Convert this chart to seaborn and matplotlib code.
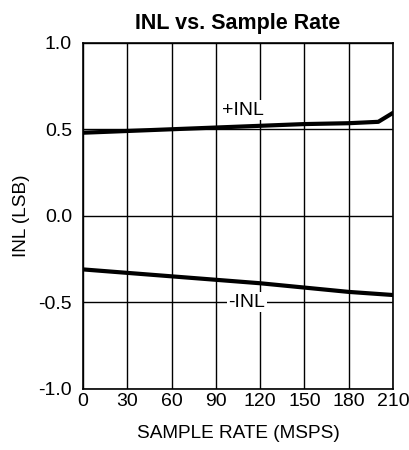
import numpy as np
import pandas as pd
import matplotlib
matplotlib.use('Agg')
import matplotlib.pyplot as plt
import seaborn as sns

# ============================================================
# DATA
# ============================================================

rate_pos = [0, 30, 60, 90, 120, 150, 180, 200, 210]
inl_pos  = [0.48, 0.49, 0.50, 0.51, 0.52, 0.53, 0.535, 0.543, 0.595]

rate_neg = [0, 30, 60, 90, 120, 150, 180, 210]
inl_neg  = [-0.31, -0.33, -0.35, -0.37, -0.39, -0.415, -0.44, -0.458]

x_ticks = [0, 30, 60, 90, 120, 150, 180, 210]
y_ticks = [-1.0, -0.5, 0.0, 0.5, 1.0]

df_pos = pd.DataFrame({'rate': rate_pos, 'inl': inl_pos})
df_neg = pd.DataFrame({'rate': rate_neg, 'inl': inl_neg})

# ============================================================
# PLOT
# ============================================================

sns.set_style('white')
plt.rcParams['font.family'] = ['Liberation Sans', 'DejaVu Sans']
plt.rcParams['text.color'] = 'black'
plt.rcParams['axes.labelcolor'] = 'black'

fig = plt.figure(figsize=(4.09, 4.5), dpi=100)
ax = fig.add_axes([0.203, 0.136, 0.758, 0.769])

sns.lineplot(data=df_pos, x='rate', y='inl', ax=ax, color='black', lw=3)
sns.lineplot(data=df_neg, x='rate', y='inl', ax=ax, color='black', lw=3)

ax.set_xlim(0, 210)
ax.set_ylim(-1.0, 1.0)
ax.set_xticks(x_ticks)
ax.set_yticks(y_ticks)
ax.set_yticklabels([f'{v:.1f}' for v in y_ticks])
ax.grid(True, color='black', lw=1)
ax.set_axisbelow(True)
ax.tick_params(length=0, labelsize=14, colors='black')
ax.tick_params(axis='y', pad=8)
ax.tick_params(axis='x', pad=3)

for s in ax.spines.values():
    s.set_color('black')
    s.set_linewidth(1.2)

ax.text(108, 0.61, '+INL', fontsize=14, ha='center', va='center',
        bbox=dict(facecolor='white', edgecolor='none', pad=1), zorder=3)
ax.text(111, -0.5, '-INL', fontsize=14, ha='center', va='center',
        bbox=dict(facecolor='white', edgecolor='none', pad=1), zorder=3)

ax.set_xlabel('SAMPLE RATE (MSPS)', fontsize=13.7, labelpad=11)
ax.set_ylabel('INL (LSB)', fontsize=13.7, labelpad=6)
ax.set_title('INL vs. Sample Rate', fontsize=15.5, fontweight='bold', pad=10)

fig.savefig('out.png', dpi=100)
